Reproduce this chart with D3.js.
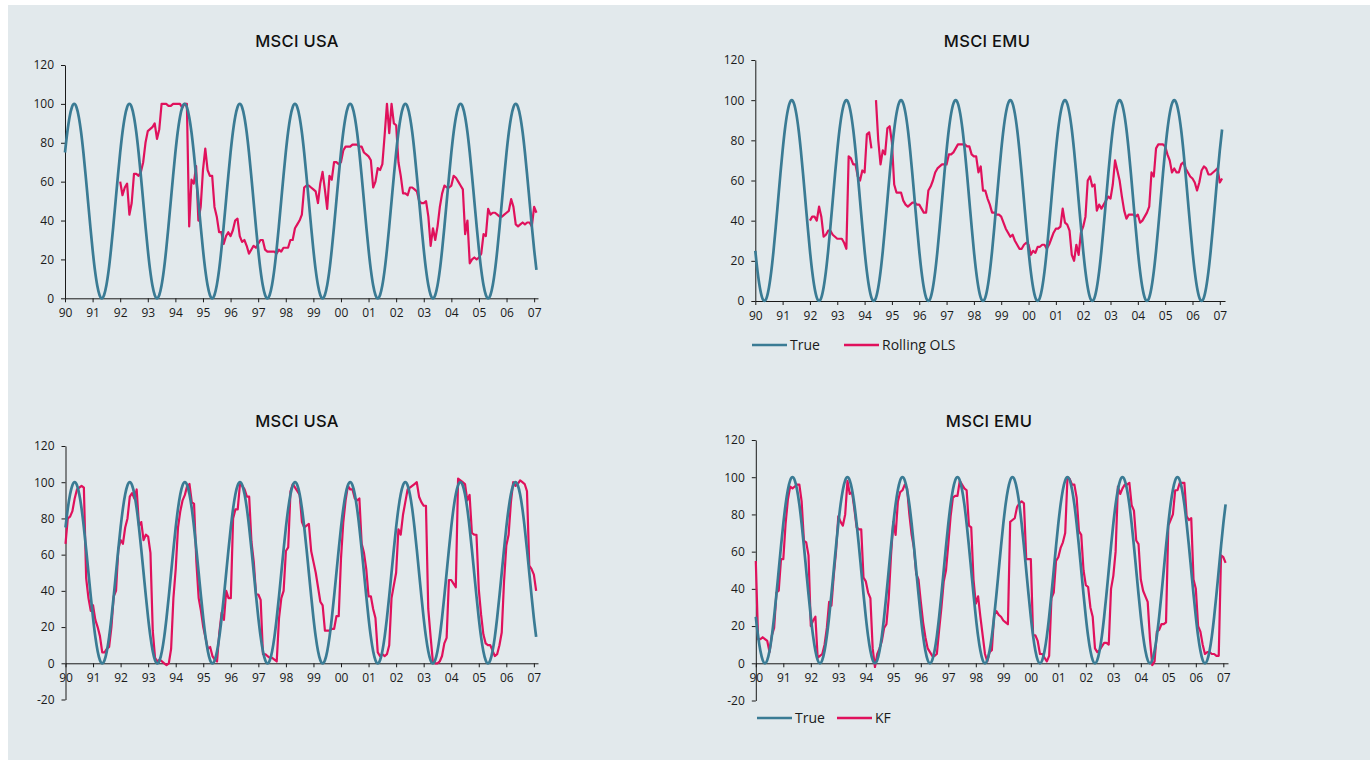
<!DOCTYPE html>
<html><head><meta charset="utf-8">
<script src="https://cdn.jsdelivr.net/npm/d3@7"></script>
<style>body{margin:0;background:#fff}svg{display:block}</style>
</head><body>
<svg id="c" width="1370" height="760"></svg>
<script>
// ---------- DATA (monthly, Jan 1990 = month 0) ----------
const yearLabels = ["90","91","92","93","94","95","96","97","98","99","00","01","02","03","04","05","06","07"];
const yTicksTop = [0,20,40,60,80,100,120];
const yTicksBottom = [-20,0,20,40,60,80,100,120];

const usaTrue = [
75,85.4,93.3,98.3,100,98.3,93.3,85.4,75,62.9,50,37.1,25,14.6,6.7,1.7,0,1.7,6.7,14.6,25,37.1,50,62.9,
75,85.4,93.3,98.3,100,98.3,93.3,85.4,75,62.9,50,37.1,25,14.6,6.7,1.7,0,1.7,6.7,14.6,25,37.1,50,62.9,
75,85.4,93.3,98.3,100,98.3,93.3,85.4,75,62.9,50,37.1,25,14.6,6.7,1.7,0,1.7,6.7,14.6,25,37.1,50,62.9,
75,85.4,93.3,98.3,100,98.3,93.3,85.4,75,62.9,50,37.1,25,14.6,6.7,1.7,0,1.7,6.7,14.6,25,37.1,50,62.9,
75,85.4,93.3,98.3,100,98.3,93.3,85.4,75,62.9,50,37.1,25,14.6,6.7,1.7,0,1.7,6.7,14.6,25,37.1,50,62.9,
75,85.4,93.3,98.3,100,98.3,93.3,85.4,75,62.9,50,37.1,25,14.6,6.7,1.7,0,1.7,6.7,14.6,25,37.1,50,62.9,
75,85.4,93.3,98.3,100,98.3,93.3,85.4,75,62.9,50,37.1,25,14.6,6.7,1.7,0,1.7,6.7,14.6,25,37.1,50,62.9,
75,85.4,93.3,98.3,100,98.3,93.3,85.4,75,62.9,50,37.1,25,14.6,6.7,1.7,0,1.7,6.7,14.6,25,37.1,50,62.9,
75,85.4,93.3,98.3,100,98.3,93.3,85.4,75,62.9,50,37.1,25,14.6
];
const emuTrue = [
25,14.6,6.7,1.7,0,1.7,6.7,14.6,25,37.1,50,62.9,75,85.4,93.3,98.3,100,98.3,93.3,85.4,75,62.9,50,37.1,
25,14.6,6.7,1.7,0,1.7,6.7,14.6,25,37.1,50,62.9,75,85.4,93.3,98.3,100,98.3,93.3,85.4,75,62.9,50,37.1,
25,14.6,6.7,1.7,0,1.7,6.7,14.6,25,37.1,50,62.9,75,85.4,93.3,98.3,100,98.3,93.3,85.4,75,62.9,50,37.1,
25,14.6,6.7,1.7,0,1.7,6.7,14.6,25,37.1,50,62.9,75,85.4,93.3,98.3,100,98.3,93.3,85.4,75,62.9,50,37.1,
25,14.6,6.7,1.7,0,1.7,6.7,14.6,25,37.1,50,62.9,75,85.4,93.3,98.3,100,98.3,93.3,85.4,75,62.9,50,37.1,
25,14.6,6.7,1.7,0,1.7,6.7,14.6,25,37.1,50,62.9,75,85.4,93.3,98.3,100,98.3,93.3,85.4,75,62.9,50,37.1,
25,14.6,6.7,1.7,0,1.7,6.7,14.6,25,37.1,50,62.9,75,85.4,93.3,98.3,100,98.3,93.3,85.4,75,62.9,50,37.1,
25,14.6,6.7,1.7,0,1.7,6.7,14.6,25,37.1,50,62.9,75,85.4,93.3,98.3,100,98.3,93.3,85.4,75,62.9,50,37.1,
25,14.6,6.7,1.7,0,1.7,6.7,14.6,25,37.1,50,62.9,75,85.4
];

// Rolling OLS estimates start in Jan 1992 (month 24)
const olsStartMonth = 24;
const usaOls = [
60,53,57,59,43,49,64,64,63,65,70,80,
86,87,88,90,82,87,100,100,100,99,99,100,
100,100,100,98,100,100,37,61,59,68,40,47,
66,77,66,63,63,47,42,34,34,28,32,34,
32,35,40,41,32,29,30,27,23,25,27,26,
28,30,30,25,24,24,24,24,23,25,24,26,
26,26,30,30,36,38,40,43,57,58,58,57,
56,55,49,59,65,56,46,63,61,70,70,69,
70,76,78,78,78,79,79,79,78,78,75,74,
73,71,57,60,67,66,69,84,100,85,100,90,
89,70,63,54,54,53,57,57,56,55,50,49,
49,50,42,27,36,30,37,47,54,58,57,57,
58,63,62,60,58,56,33,40,18,20,21,20,
21,23,33,32,46,43,44,44,43,42,42,43,
44,45,51,47,38,37,38,39,38,39,39,37,
47,44
];
const emuOls = [
40,42,42,40,47,42,32,33,35,35,33,32,
31,31,31,29,26,72,71,68,68,62,60,65,
64,83,84,76,null,100,80,68,75,73,86,87,
79,58,54,54,54,50,48,47,48,49,49,48,
48,46,44,44,55,57,60,64,66,67,68,68,
68,73,73,74,76,78,78,78,78,77,77,73,
72,72,64,67,55,55,51,48,44,44,43,43,
42,39,36,34,32,33,30,28,26,26,28,29,
28,23,25,24,27,27,28,28,26,28,31,34,
36,36,37,46,39,38,35,23,20,28,23,34,
37,42,60,62,57,58,45,48,46,48,50,52,
51,58,70,65,60,52,45,41,43,43,43,42,
43,39,40,42,44,47,64,62,76,78,78,78,
77,73,70,64,66,64,64,68,69,66,64,62,
61,59,55,59,65,67,66,63,63,64,65,66,
59,61
];

// Kalman filter estimates start in Jan 1990 (month 0)
const usaKf = [
66,80,81,84,91,96,97,98,97,47,36,29,
32,24,20,15,6,6,8,9,20,37,40,63,
68,66,75,80,92,94,91,96,76,78,68,71,
70,61,18,3,1,2,1,0,-1,0,8,36,
52,75,84,90,93,98,99,89,88,56,36,29,
20,14,8,9,4,2,1,17,28,24,40,36,
36,80,85,85,99,98,96,92,92,67,56,38,
38,35,5,5,4,3,3,2,1,25,36,40,
62,64,95,99,97,95,93,78,75,76,77,62,
56,50,42,34,32,18,18,18,19,19,26,26,
58,78,90,98,96,96,91,90,91,66,61,52,
37,37,30,25,6,4,5,4,5,10,36,43,
50,74,71,82,89,96,97,98,99,100,92,89,
87,87,30,15,1,0,0,1,4,11,14,46,
46,44,42,102,101,100,99,90,93,72,71,71,
41,27,16,11,10,10,7,4,5,10,17,45,
65,71,89,100,98,99,101,100,99,95,54,52,
49,40
];
const emuKf = [
55,13,13,14,13,12,6,15,19,38,39,56,
56,75,88,95,94,95,96,96,87,66,65,58,
20,23,25,3,4,5,10,19,33,31,47,60,
79,76,74,80,98,91,92,83,73,72,72,46,
44,38,35,8,-2,5,8,12,19,21,35,58,
76,69,87,92,93,96,94,80,69,62,48,45,
33,22,14,8,6,4,4,5,18,30,44,50,
64,79,89,90,90,98,96,94,93,74,73,45,
32,36,25,15,5,1,6,7,26,28,26,25,
23,22,21,76,77,78,84,86,87,86,56,56,
56,15,15,12,5,5,3,1,4,35,38,55,
57,62,65,70,100,99,96,96,89,71,69,50,
42,41,30,25,8,6,7,9,11,11,10,40,
47,60,95,91,94,96,96,97,85,82,66,64,
45,39,36,33,13,-1,1,17,18,21,21,22,
74,77,80,93,93,97,97,97,79,77,78,45,
40,20,17,10,5,6,6,5,5,4,4,58,
57,54
];

// ---------- RENDER ----------
const BLUE = "#3a7b94", RED = "#e0115c", BG = "#e2e9ec", INK = "#1a1a1a";
const FONT = "'Open Sans', Lato, sans-serif";
const TITLE_FONT = "Inter, 'Open Sans', sans-serif";
const svg = d3.select("#c");
svg.append("rect").attr("x", 8).attr("y", 5).attr("width", 1362).attr("height", 755).attr("fill", BG);

function toPts(arr, start) {
  return arr.map((v, i) => ({ t: (start + i) / 12, v: v }));
}

const panels = [
  { title: "MSCI USA", tx: 297, ty: 47, xr: [65, 538], tMax: 17.14, yr: [298.3, 65], yMin: 0, yTicks: yTicksTop,
    trueS: usaTrue, est: usaOls, estStart: olsStartMonth, legend: null },
  { title: "MSCI EMU", tx: 987, ty: 47, xr: [755.3, 1225], tMax: 17.19, yr: [301, 60], yMin: 0, yTicks: yTicksTop,
    trueS: emuTrue, est: emuOls, estStart: olsStartMonth,
    legend: { y: 345, items: [{ x: 752, c: BLUE, label: "True" }, { x: 844, c: RED, label: "Rolling OLS" }] } },
  { title: "MSCI USA", tx: 297, ty: 427, xr: [65.5, 538], tMax: 17.15, yr: [699.5, 446], yMin: -20, yTicks: yTicksBottom,
    trueS: usaTrue, est: usaKf, estStart: 0, legend: null },
  { title: "MSCI EMU", tx: 989, ty: 427, xr: [755.8, 1228], tMax: 17.17, yr: [700.5, 440], yMin: -20, yTicks: yTicksBottom,
    trueS: emuTrue, est: emuKf, estStart: 0,
    legend: { y: 718, items: [{ x: 757, c: BLUE, label: "True" }, { x: 837, c: RED, label: "KF" }] } }
];

panels.forEach(p => {
  const g = svg.append("g");
  const x = d3.scaleLinear().domain([0, p.tMax]).range(p.xr);
  const y = d3.scaleLinear().domain([p.yMin, 120]).range(p.yr);

  g.append("text").attr("x", p.tx).attr("y", p.ty).attr("text-anchor", "middle")
    .attr("font-family", TITLE_FONT).attr("font-size", 16.5).attr("font-weight", 500)
    .attr("letter-spacing", 0.3).attr("fill", "#111").text(p.title);

  const ya = g.append("g").attr("transform", `translate(${p.xr[0]},0)`)
    .call(d3.axisLeft(y).tickValues(p.yTicks).tickSize(4).tickSizeOuter(0).tickPadding(7).tickFormat(d => String(d)));
  const xa = g.append("g").attr("transform", `translate(0,${y(0)})`)
    .call(d3.axisBottom(x).tickValues(d3.range(yearLabels.length)).tickSize(4).tickSizeOuter(0).tickPadding(6)
      .tickFormat(i => yearLabels[i]));
  [ya, xa].forEach(a => {
    a.select(".domain").attr("stroke", INK).attr("stroke-width", 1);
    a.selectAll(".tick line").attr("stroke", INK);
    a.selectAll("text").attr("font-family", FONT).attr("font-size", 12).attr("fill", INK);
  });

  const line = d3.line().defined(d => d.v != null).x(d => x(d.t)).y(d => y(d.v));
  g.append("path").datum(toPts(p.est, p.estStart)).attr("d", line)
    .attr("fill", "none").attr("stroke", RED).attr("stroke-width", 2.2).attr("stroke-linejoin", "round");
  g.append("path").datum(toPts(p.trueS, 0)).attr("d", line.curve(d3.curveMonotoneX))
    .attr("fill", "none").attr("stroke", BLUE).attr("stroke-width", 2.7);

  if (p.legend) {
    p.legend.items.forEach(it => {
      g.append("line").attr("x1", it.x).attr("x2", it.x + 35).attr("y1", p.legend.y).attr("y2", p.legend.y)
        .attr("stroke", it.c).attr("stroke-width", 2.7);
      g.append("text").attr("x", it.x + 38).attr("y", p.legend.y + 5).attr("font-family", FONT)
        .attr("font-size", 14).attr("fill", INK).text(it.label);
    });
  }
});
</script>
</body></html>
